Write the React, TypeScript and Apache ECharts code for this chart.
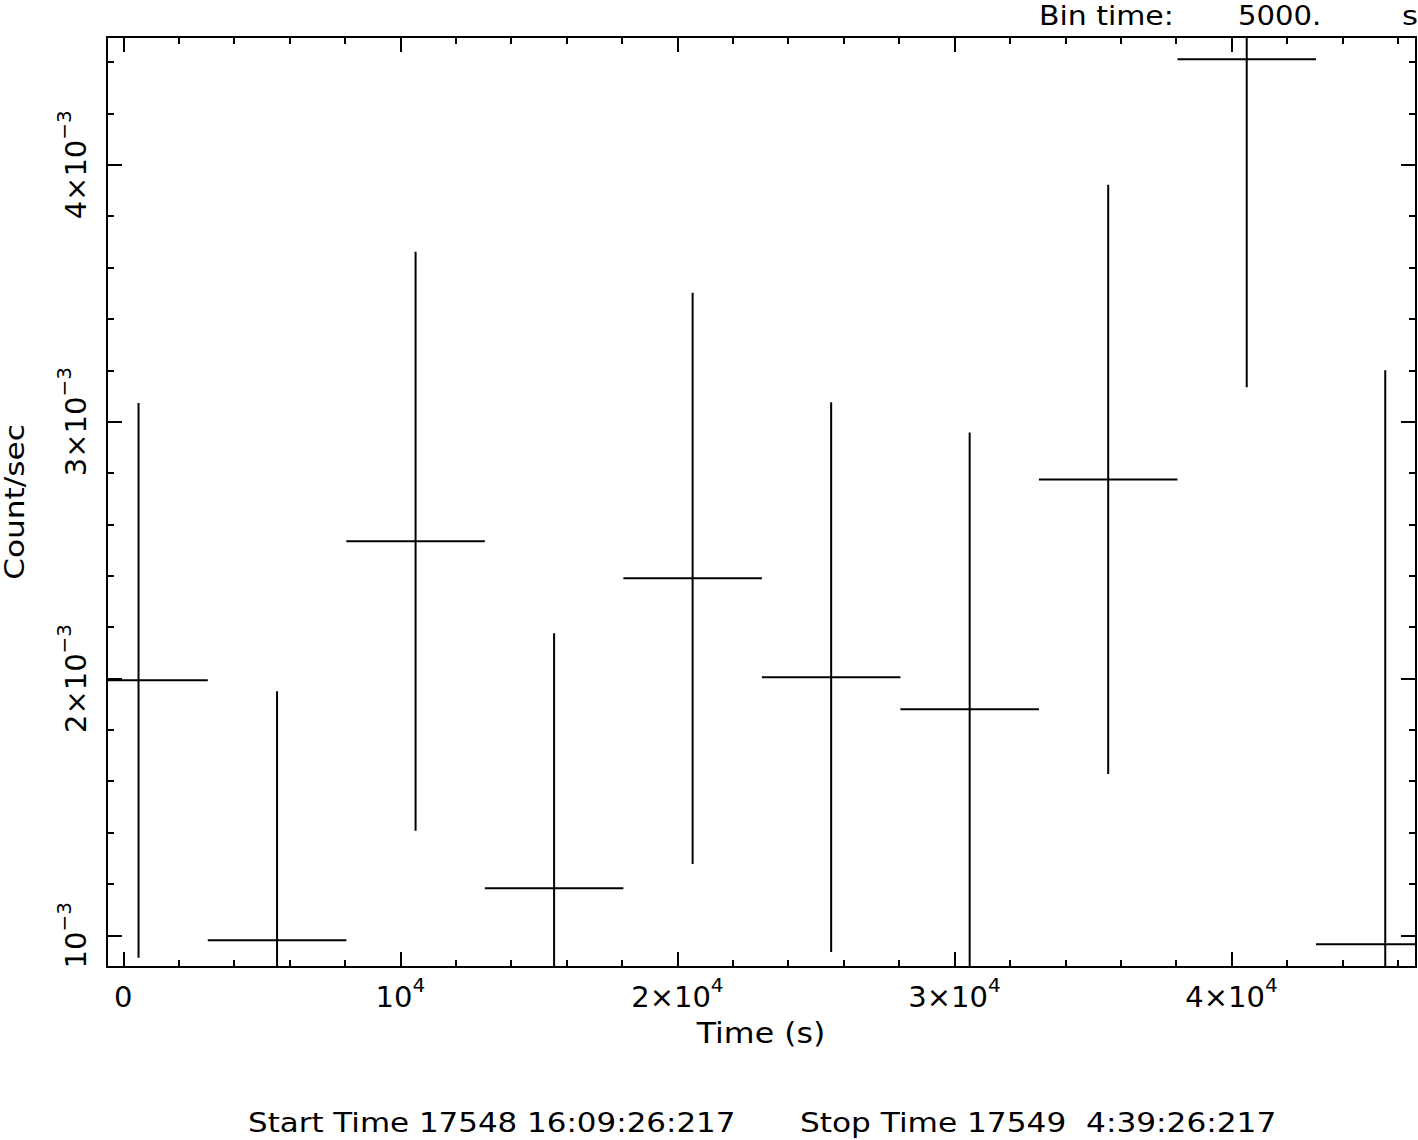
import { useEffect, useRef } from "react";
import * as echarts from "echarts";

// ---- data ----
const binTimes = [550, 5550, 10550, 15550, 20550, 25550, 30550, 35550, 40550, 45550];
const halfBin = 2500;
const countRates = [0.001993, 0.0009805, 0.002534, 0.001183, 0.00239, 0.002005, 0.00188, 0.002775, 0.004411, 0.000965];
const countErrs = [0.00108, 0.00097, 0.001127, 0.000993, 0.001112, 0.00107, 0.001078, 0.001147, 0.001277, 0.002235];

// ---- axes ----
const xRange = [-588, 46660];
const yRange = [0.0008766, 0.0044976];
const xMajorTicks = [0, 10000, 20000, 30000, 40000];
const xMinorTicks = [2000, 4000, 6000, 8000, 12000, 14000, 16000, 18000, 22000, 24000, 26000, 28000, 32000, 34000, 36000, 38000, 42000, 44000, 46000];
const yMajorTicks = [0.001, 0.002, 0.003, 0.004];
const yMinorTicks = [0.0012, 0.0014, 0.0016, 0.0018, 0.0022, 0.0024, 0.0026, 0.0028, 0.0032, 0.0034, 0.0036, 0.0038, 0.0042, 0.0044];

// ---- texts ----
const binLabel = "Bin time:";
const binValue = "5000.";
const binUnit = "s";
const xTitle = "Time (s)";
const yTitle = "Count/sec";
const startText = "Start Time 17548 16:09:26:217";
const stopText = "Stop Time 17549  4:39:26:217";

const FONT = "DejaVu Sans";
const INK = "#000";

function xLabel(v: number): string {
  const m = Math.round(v / 10000);
  if (m === 0) return "{b|0}";
  return m === 1 ? "{b|10}{s|4}" : `{b|${m}×10}{s|4}`;
}
function yLabel(v: number): string {
  const m = Math.round(v * 1000);
  return m === 1 ? "{b|10}{s|−3}" : `{b|${m}×10}{s|−3}`;
}

const xRich = {
  b: { fontSize: 29, fontFamily: FONT, color: INK, lineHeight: 36, verticalAlign: "bottom" },
  s: { fontSize: 20, fontFamily: FONT, color: INK, lineHeight: 22, verticalAlign: "top" },
};
const yRich = {
  b: { fontSize: 29, fontFamily: FONT, color: INK, lineHeight: 36, verticalAlign: "bottom" },
  s: { fontSize: 20, fontFamily: FONT, color: INK, lineHeight: 14, verticalAlign: "top" },
};

function makeX(position: string, ticks: number[], len: number, line: boolean, labels: boolean) {
  return {
    type: "value",
    position,
    min: xRange[0],
    max: xRange[1],
    axisLine: { show: line, onZero: false, lineStyle: { color: INK, width: 2 } },
    axisTick: { show: true, inside: true, length: len, customValues: ticks, lineStyle: { color: INK, width: 2 } },
    axisLabel: labels
      ? { show: true, customValues: ticks, margin: 8, formatter: xLabel, rich: xRich, color: INK }
      : { show: false },
    splitLine: { show: false },
  };
}
function makeY(position: string, ticks: number[], len: number, line: boolean, labels: boolean) {
  return {
    type: "value",
    position,
    min: yRange[0],
    max: yRange[1],
    axisLine: { show: line, onZero: false, lineStyle: { color: INK, width: 2 } },
    axisTick: { show: true, inside: true, length: len, customValues: ticks, lineStyle: { color: INK, width: 2 } },
    axisLabel: labels
      ? { show: true, customValues: ticks, margin: 17, rotate: 90, formatter: yLabel, rich: yRich, color: INK }
      : { show: false },
    splitLine: { show: false },
  };
}

function txt(text: string, x: number, y: number, size: number, align: string, extra: any = {}) {
  return {
    type: "text",
    x,
    y,
    scaleX: 1.18,
    ...extra,
    style: { text, font: `${size}px "${FONT}"`, fill: INK, verticalAlign: "middle", align },
  };
}

export default function App() {
  const ref = useRef<HTMLDivElement>(null);
  useEffect(() => {
    document.body.style.margin = "0";
    const chart = echarts.init(ref.current!, undefined, { renderer: "svg" });
    const data = binTimes.map((t, i) => [t, countRates[i], countErrs[i]]);
    chart.setOption({
      animation: false,
      backgroundColor: "#fff",
      grid: { left: 107, top: 37, width: 1309, height: 930, containLabel: false },
      xAxis: [
        makeX("bottom", xMajorTicks, 15, true, true),
        makeX("bottom", xMinorTicks, 7, false, false),
        makeX("top", xMajorTicks, 15, true, false),
        makeX("top", xMinorTicks, 7, false, false),
      ],
      yAxis: [
        makeY("left", yMajorTicks, 15, true, true),
        makeY("left", yMinorTicks, 7, false, false),
        makeY("right", yMajorTicks, 15, true, false),
        makeY("right", yMinorTicks, 7, false, false),
      ],
      series: [
        {
          type: "custom",
          xAxisIndex: 0,
          yAxisIndex: 0,
          data,
          renderItem: (params: any, api: any) => {
            const cs = params.coordSys;
            const x0 = cs.x, x1 = cs.x + cs.width, y0 = cs.y, y1 = cs.y + cs.height;
            const cx = (v: number) => Math.max(x0, Math.min(x1, v));
            const cy = (v: number) => Math.max(y0, Math.min(y1, v));
            const t = api.value(0);
            const r = api.value(1);
            const e = api.value(2);
            const left = api.coord([t - halfBin, r]);
            const right = api.coord([t + halfBin, r]);
            const top = api.coord([t, r + e]);
            const bot = api.coord([t, r - e]);
            const style = { stroke: INK, lineWidth: 2 };
            return {
              type: "group",
              children: [
                { type: "line", shape: { x1: cx(left[0]), y1: left[1], x2: cx(right[0]), y2: right[1] }, style },
                { type: "line", shape: { x1: top[0], y1: cy(top[1]), x2: bot[0], y2: cy(bot[1]) }, style },
              ],
            };
          },
        },
      ],
      graphic: [
        txt(binLabel, 1039, 16, 26, "left", { scaleX: 1.15 }),
        txt(binValue, 1238, 16, 26, "left", { scaleX: 1.12 }),
        txt(binUnit, 1402, 16, 26, "left"),
        txt(xTitle, 761, 1033, 29, "center", { scaleX: 1.09 }),
        txt(yTitle, 15, 502, 26, "center", { rotation: Math.PI / 2, scaleX: 1.2 }),
        txt(startText, 248, 1123, 26, "left", { scaleX: 1.19 }),
        txt(stopText, 800, 1123, 26, "left", { scaleX: 1.2 }),
      ],
    });
    return () => chart.dispose();
  }, []);
  return <div ref={ref} style={{ position: "absolute", left: 0, top: 0, width: 1418, height: 1140 }} />;
}
